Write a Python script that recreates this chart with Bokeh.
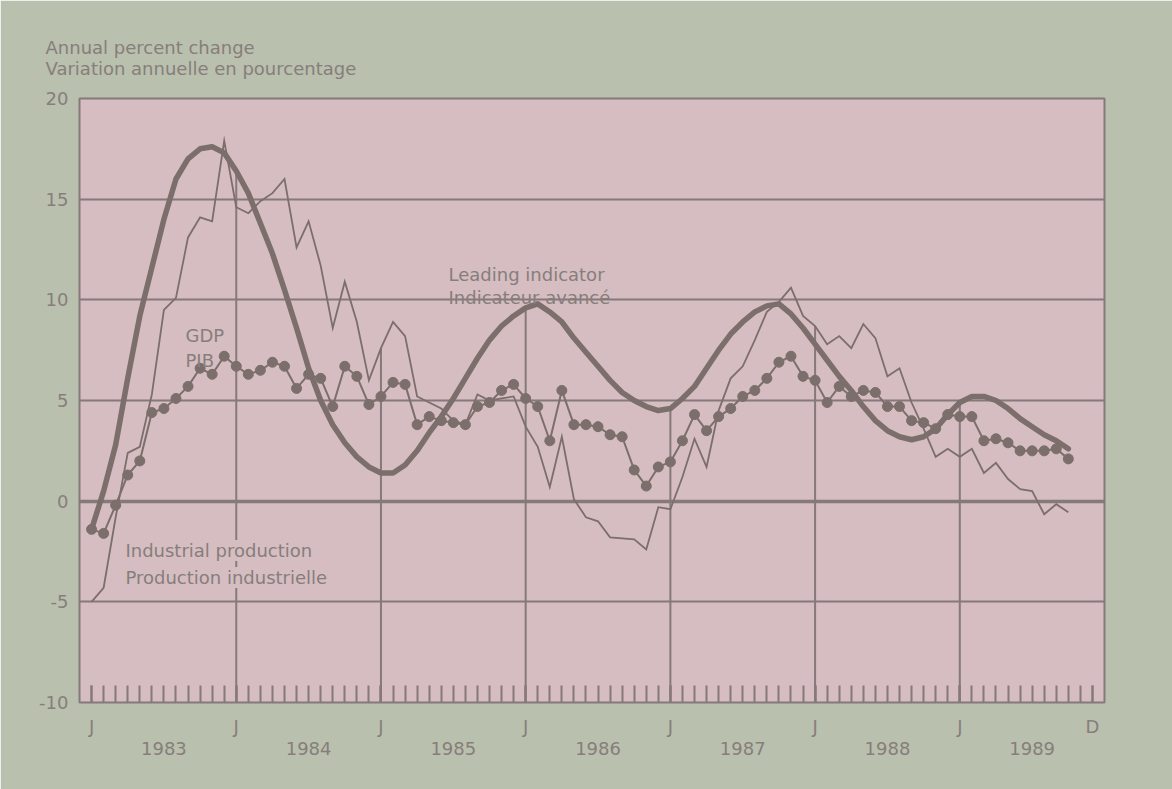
from bokeh.plotting import figure
from bokeh.models import Range1d, LinearAxis, FixedTicker, Grid, Label, Title, ColumnDataSource
from bokeh.embed import file_html
from bokeh.resources import INLINE

# ---- data (month index: 0 = Jan 1983) ----
months = list(range(82))

leading = [-1.4, 0.5, 2.8, 6.1, 9.2, 11.6, 14.0, 16.0, 17.0, 17.5,
           17.6, 17.3, 16.4, 15.3, 13.8, 12.3, 10.5, 8.6, 6.6, 5.0,
           3.8, 2.9, 2.2, 1.7, 1.4, 1.4, 1.8, 2.5, 3.4, 4.2,
           5.1, 6.1, 7.1, 8.0, 8.7, 9.2, 9.6, 9.8, 9.4, 8.9,
           8.1, 7.4, 6.7, 6.0, 5.4, 5.0, 4.7, 4.5, 4.6, 5.1,
           5.7, 6.6, 7.5, 8.3, 8.9, 9.4, 9.7, 9.8, 9.3, 8.6,
           7.8, 7.0, 6.2, 5.5, 4.7, 4.0, 3.5, 3.2, 3.05, 3.2,
           3.6, 4.3, 4.9, 5.2, 5.2, 5.0, 4.6, 4.1, 3.7, 3.3,
           3.0, 2.6]

gdp = [-1.4, -1.6, -0.2, 1.3, 2.0, 4.4, 4.6, 5.1, 5.7, 6.6,
       6.3, 7.2, 6.7, 6.3, 6.5, 6.9, 6.7, 5.6, 6.3, 6.1,
       4.7, 6.7, 6.2, 4.8, 5.2, 5.9, 5.8, 3.8, 4.2, 4.0,
       3.9, 3.8, 4.7, 4.9, 5.5, 5.8, 5.1, 4.7, 3.0, 5.5,
       3.8, 3.8, 3.7, 3.3, 3.2, 1.55, 0.75, 1.7, 1.95, 3.0,
       4.3, 3.5, 4.2, 4.6, 5.2, 5.5, 6.1, 6.9, 7.2, 6.2,
       6.0, 4.9, 5.7, 5.2, 5.5, 5.4, 4.7, 4.7, 4.0, 3.9,
       3.6, 4.3, 4.2, 4.2, 3.0, 3.1, 2.9, 2.5, 2.5, 2.5,
       2.6, 2.1]

industrial = [-5.0, -4.3, -0.8, 2.4, 2.7, 5.3, 9.5, 10.1, 13.1, 14.1,
              13.9, 17.9, 14.6, 14.3, 14.9, 15.3, 16.0, 12.6, 13.9, 11.7,
              8.6, 10.9, 8.9, 6.0, 7.6, 8.9, 8.2, 5.2, 4.9, 4.6,
              4.0, 3.8, 5.3, 5.0, 5.1, 5.2, 3.7, 2.7, 0.7, 3.2,
              0.1, -0.8, -1.0, -1.8, -1.85, -1.9, -2.4, -0.3, -0.4, 1.2,
              3.1, 1.7, 4.5, 6.1, 6.7, 8.0, 9.4, 9.9, 10.6, 9.2,
              8.7, 7.8, 8.2, 7.6, 8.8, 8.1, 6.2, 6.6, 4.9, 3.6,
              2.2, 2.6, 2.2, 2.6, 1.4, 1.9, 1.1, 0.6, 0.5, -0.65,
              -0.15, -0.55]

years = ["1983", "1984", "1985", "1986", "1987", "1988", "1989"]
y_ticks = [-10, -5, 0, 5, 10, 15, 20]
jan_months = [0, 12, 24, 36, 48, 60, 72]
dec_month = 83

# ---- style ----
PAGE = "#b9c0ae"
PANEL = "#d5bdc2"
INK = "#7b6e6b"
GRIDC = "#85797a"
TEXT = "#877e7b"
FONT = "DejaVu Sans"
FS = "18px"

p = figure(width=1172, height=789, output_backend="svg", toolbar_location=None,
           x_range=Range1d(-1, 84), y_range=Range1d(-10, 20),
           x_axis_location=None, y_axis_location=None,
           min_border_left=79, min_border_right=68, min_border_top=98, min_border_bottom=87)
p.background_fill_color = PANEL
p.border_fill_color = PAGE
p.outline_line_color = GRIDC
p.outline_line_width = 2
p.grid.visible = False

# two-line unit title above the frame
p.add_layout(Title(text="Annual percent change\nVariation annuelle en pourcentage",
                   align="left", offset=-34, standoff=39,
                   text_font=FONT, text_font_size=FS, text_color=TEXT,
                   text_font_style="normal", text_line_height=1.0), "above")

# horizontal grid lines
p.add_layout(Grid(dimension=1, ticker=FixedTicker(ticks=[-5, 5, 10, 15]),
                  grid_line_color=GRIDC, grid_line_width=2))
p.add_layout(Grid(dimension=1, ticker=FixedTicker(ticks=[0]),
                  grid_line_color=GRIDC, grid_line_width=3.5))

# left axis
ya = LinearAxis(ticker=FixedTicker(ticks=y_ticks),
                major_label_overrides={t: str(t) for t in y_ticks},
                axis_line_color=None, major_tick_line_color=None, minor_tick_line_color=None,
                major_tick_in=0, major_tick_out=0, major_label_standoff=11,
                major_label_text_font=FONT, major_label_text_font_size=FS,
                major_label_text_color=TEXT)
p.add_layout(ya, "left")

# bottom axis: monthly ticks inside, J / D labels
labels_j = {m: "J" for m in jan_months}
labels_j[dec_month] = "D"
xa = LinearAxis(ticker=FixedTicker(ticks=jan_months + [dec_month], minor_ticks=list(range(dec_month + 1))),
                major_label_overrides=labels_j,
                axis_line_color=None,
                major_tick_in=17, major_tick_out=0, minor_tick_in=17, minor_tick_out=0,
                major_tick_line_color=GRIDC, minor_tick_line_color=GRIDC,
                major_tick_line_width=2, minor_tick_line_width=2,
                major_label_standoff=13,
                major_label_text_font=FONT, major_label_text_font_size=FS,
                major_label_text_color=TEXT)
p.add_layout(xa, "below")

# bottom axis: year labels
year_pos = [m + 6 for m in jan_months]
xa2 = LinearAxis(ticker=FixedTicker(ticks=year_pos),
                 major_label_overrides={pos: y for pos, y in zip(year_pos, years)},
                 axis_line_color=None, major_tick_line_color=None, minor_tick_line_color=None,
                 major_tick_in=0, major_tick_out=0, major_label_standoff=2,
                 major_label_text_font=FONT, major_label_text_font_size=FS,
                 major_label_text_color=TEXT)
p.add_layout(xa2, "below")

# January drop lines (from the bottom up to the highest series value)
tops = [max(leading[m], gdp[m], industrial[m]) for m in jan_months[1:]]
p.segment(x0=jan_months[1:], y0=[-10] * len(tops), x1=jan_months[1:], y1=tops,
          line_color=GRIDC, line_width=2)

src = ColumnDataSource(dict(m=months, lead=leading, gdp=gdp, ip=industrial))
p.line("m", "ip", source=src, line_color=INK, line_width=1.8, line_join="miter")
p.line("m", "lead", source=src, line_color=INK, line_width=5.5, line_join="round", line_cap="round")
p.line("m", "gdp", source=src, line_color=INK, line_width=2)
p.scatter("m", "gdp", source=src, size=10, fill_color=INK, line_color=INK)

def lab(x, y, t, bg=None):
    kw = dict(x=x, y=y, text=t, text_font=FONT, text_font_size=FS, text_color=TEXT,
              text_baseline="alphabetic", text_align="left")
    if bg:
        kw["background_fill_color"] = bg
    p.add_layout(Label(**kw))

lab(7.79, 8.23, "GDP")
lab(7.79, 6.99, "PIB")
lab(29.6, 11.25, "Leading indicator")
lab(29.6, 10.12, "Indicateur avancé")
lab(2.81, -2.45, "Industrial production", bg=PANEL)
lab(2.81, -3.79, "Production industrielle", bg=PANEL)

open("out.html", "w").write(file_html(p, INLINE))
